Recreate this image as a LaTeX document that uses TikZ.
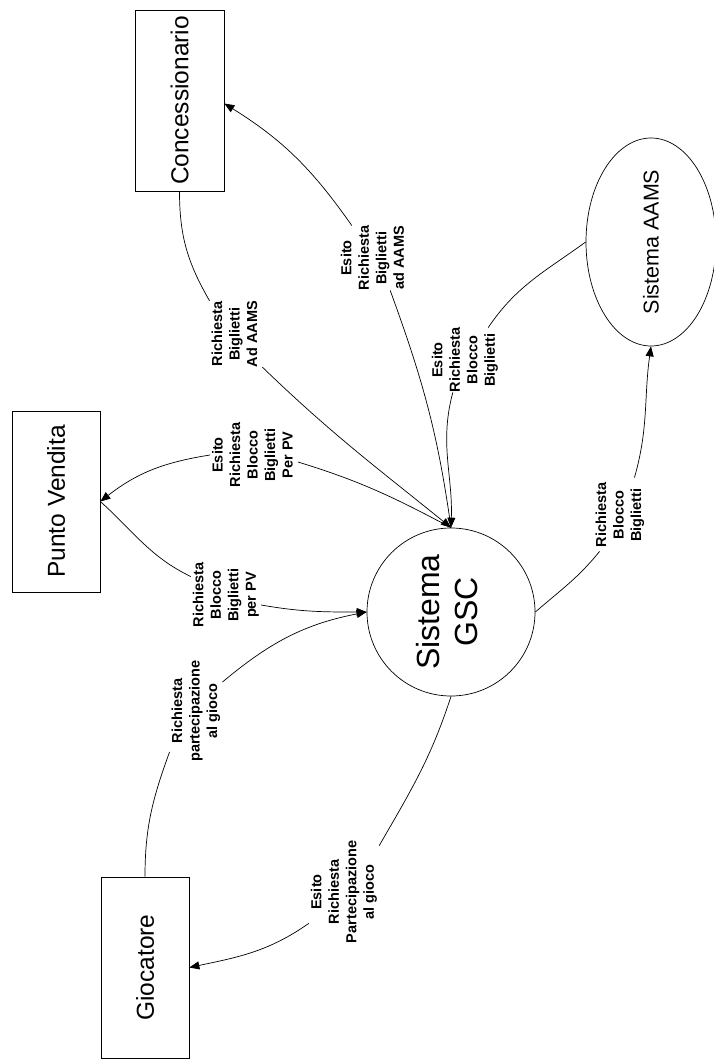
\documentclass[tikz,border=0pt]{standalone}
\usepackage{fontspec}
\setmainfont{Liberation Sans}
\usetikzlibrary{arrows.meta,shapes.geometric}
\newcommand\rtext[1]{\rotatebox{90}{\begin{tabular}{@{}c@{}}#1\end{tabular}}}
\begin{document}
\begin{tikzpicture}[x=1pt,y=1pt,
  box/.style={draw, line width=0.7pt, minimum width=88pt, minimum height=181pt, inner sep=0pt, font=\fontsize{24.5}{29}\selectfont},
  lbl/.style={inner sep=0pt, font=\fontsize{14.5}{17.5}\selectfont\bfseries},
  flow/.style={line width=0.7pt},
  arr/.style={flow, -{Triangle[length=10pt,width=8pt]}}
]
\useasboundingbox (0,0) rectangle (714,-1059);

% main nodes
\node[box, minimum width=89pt] (conc) at (179.5,-100.5) {\rotatebox{90}{Concessionario}};
\node[box] (pv) at (56,-501.5) {\rotatebox{90}{Punto Vendita}};
\node[box] (gioc) at (145,-967.5) {\rotatebox{90}{Giocatore}};
\node[circle, draw, line width=0.7pt, minimum size=168pt, inner sep=0pt, font=\fontsize{32}{38}\selectfont] (gsc) at (451,-612) {\rtext{Sistema\\GSC}};
\node[ellipse, draw, line width=0.7pt, minimum width=130pt, minimum height=208pt, inner sep=0pt, font=\fontsize{21.5}{26}\selectfont] (aams) at (651,-242) {\rotatebox{90}{Sistema AAMS}};

% labels
\node[lbl] (lab1) at (236,-334) {\rtext{Richiesta\\Biglietti\\Ad AAMS}};
\node[lbl] (lab2) at (374,-258) {\rtext{Esito\\Richiesta\\Biglietti\\ad AAMS}};
\node[lbl] (lab3) at (465,-360) {\rtext{Esito\\Richiesta\\Blocco\\Biglietti}};
\node[lbl] (lab4) at (254,-455) {\rtext{Esito\\Richiesta\\Blocco\\Biglietti\\Per PV}};
\node[lbl] (lab5) at (226,-595) {\rtext{Richiesta\\Blocco\\Biglietti\\per PV}};
\node[lbl] (lab6) at (196,-711) {\rtext{Richiesta\\partecipazione\\al gioco}};
\node[lbl] (lab7) at (344,-892) {\rtext{Esito\\Richiesta\\Partecipazione\\al gioco}};
\node[lbl] (lab8) at (620,-515) {\rtext{Richiesta\\Blocco\\Biglietti}};

% A: Concessionario -> GSC
\draw[flow] (conc.south) to[out=-90,in=120] (lab1.north west);
\draw[arr] (lab1.south east) to[out=-44,in=141] (gsc.north);
% B: GSC -> Concessionario
\draw[flow] ([xshift=-19]lab2.south east) to[out=-70,in=98] (gsc.north);
\draw[arr] ([xshift=13]lab2.north west) to[out=125,in=-32] ([yshift=-3]conc.east);
% C: AAMS -> GSC
\draw[flow] (aams.west) to[out=216,in=56] ([xshift=-12]lab3.north east);
\draw[arr] ([xshift=23]lab3.south west) to[out=-105,in=88] (gsc.north);
% D: GSC -> AAMS
\draw[flow] (gsc.east) to[out=41,in=-129] ([xshift=6,yshift=-4]lab8.south west);
\draw[arr] ([xshift=-12,yshift=5]lab8.north east) to[out=74,in=-98] (aams.south);
% E: GSC -> Punto Vendita
\draw[flow] ([yshift=-7]lab4.east) to[out=-17,in=152] (gsc.north);
\draw[arr] (lab4.west) to[out=189,in=38] (pv.east);
% F: Punto Vendita -> GSC
\draw[flow] (pv.east) to[out=-42,in=154] ([yshift=-14]lab5.north west);
\draw[arr] ([yshift=-10]lab5.east) to[out=-10,in=180] (gsc.west);
% G: Giocatore -> GSC
\draw[flow] (gioc.north) to[out=90,in=-110] ([yshift=10]lab6.south west);
\draw[arr] ([yshift=-22]lab6.north east) to[out=40,in=-169] (gsc.west);
% H: GSC -> Giocatore
\draw[flow] (gsc.south) to[out=-108,in=60] ([yshift=-5]lab7.north east);
\draw[arr] ([yshift=20]lab7.south west) to[out=215,in=12] (gioc.east);
\end{tikzpicture}
\end{document}
